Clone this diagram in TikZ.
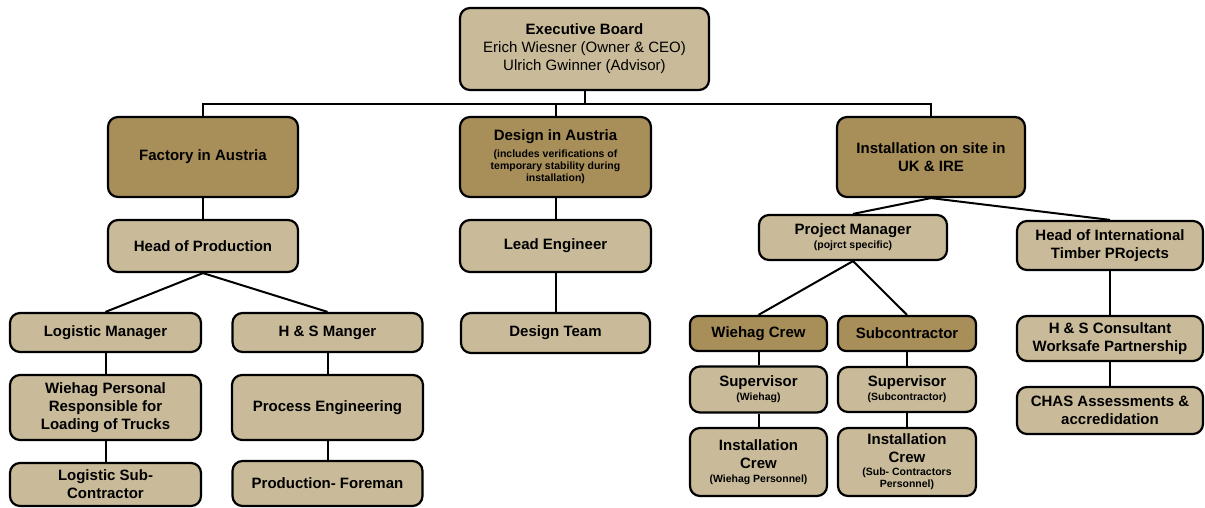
\documentclass[tikz,border=0pt]{standalone}
\usepackage{fontspec}
\setmainfont{Liberation Sans}
\usepackage{xcolor}
\usepackage{tikz}
\usetikzlibrary{positioning,calc}

\definecolor{lighttan}{HTML}{C9BB99}
\definecolor{darktan}{HTML}{A88F59}
\newcommand{\smalltxt}{\fontsize{10.5}{12}\selectfont}

\begin{document}
\begin{tikzpicture}[x=1pt,y=-1pt,
  every node/.style={font=\fontsize{15}{18}\selectfont\bfseries, align=center, inner sep=0pt},
  box/.style={draw, line width=2.2pt, rounded corners=10pt, fill=lighttan},
  darkbox/.style={box, fill=darktan},
  link/.style={line width=2pt}]
  \useasboundingbox (0,0) rectangle (1205,508);

% connectors first, boxes on top
\coordinate (bus) at (584.5,104);
\coordinate (execbot) at (584.5,90);
\draw[link] (execbot) -- (bus);
\draw[link] (203,117) |- (bus) -| (931,117);
\draw[link] (555.5,117) -- (555.5,104);

\node (exec) at (584.5,49) [box, minimum width=249pt, minimum height=82pt] {Executive Board\\\mdseries Erich Wiesner (Owner \& CEO)\\\mdseries Ulrich Gwinner (Advisor)};

% top level
\node (factory) at (203,157) [darkbox, minimum width=190pt, minimum height=80pt] {Factory in Austria};
\node (design) at (555.5,157) [darkbox, minimum width=191pt, minimum height=80pt] {Design in Austria\\[-1pt]\smalltxt (includes verifications of\\[-6pt]\smalltxt temporary stability during\\[-6pt]\smalltxt installation)};
\node (install) at (931,157) [darkbox, minimum width=188pt, minimum height=80pt] {Installation on site in\\UK \& IRE};

% factory branch
\node (prod) at (203,246) [box, minimum width=190pt, minimum height=52pt] {Head of Production};
\node (logman) at (105.5,332.5) [box, minimum width=191pt, minimum height=39pt] {Logistic Manager};
\node (hsman) at (327.5,332.5) [box, minimum width=190pt, minimum height=39pt] {H \& S Manger};
\node (loading) at (105.5,407.5) [box, minimum width=191pt, minimum height=65pt] {Wiehag Personal\\Responsible for\\Loading of Trucks};
\node (process) at (327.5,407.5) [box, minimum width=191pt, minimum height=65pt] {Process Engineering};
\node (logsub) at (105.5,484.5) [box, minimum width=191pt, minimum height=43pt] {Logistic Sub-\\Contractor};
\node (foreman) at (327.5,483.5) [box, minimum width=190pt, minimum height=45pt] {Production- Foreman};

% design branch
\node (lead) at (555.5,246) [box, minimum width=191pt, minimum height=52pt] {Lead Engineer};
\node (team) at (555.5,333) [box, minimum width=189pt, minimum height=40pt] {Design Team};

% installation branch
\node (pm) at (853,237.5) [box, minimum width=188pt, minimum height=45pt] {Project Manager\\[-4pt]\smalltxt (pojrct specific)};
\node (intl) at (1110,245.5) [box, minimum width=186pt, minimum height=49pt] {Head of International\\Timber PRojects};
\node (crew) at (758.5,333.5) [darkbox, rounded corners=8pt, minimum width=137pt, minimum height=35pt] {Wiehag Crew};
\node (sub) at (907,333.5) [darkbox, rounded corners=8pt, minimum width=138pt, minimum height=35pt] {Subcontractor};
\node (supw) at (758.5,389.5) [box, minimum width=137pt, minimum height=46pt] {Supervisor\\[-4pt]\smalltxt (Wiehag)};
\node (sups) at (907,389.5) [box, minimum width=138pt, minimum height=45pt] {Supervisor\\[-4pt]\smalltxt (Subcontractor)};
\node (instw) at (758.5,462) [box, minimum width=137pt, minimum height=68pt] {Installation\\Crew\\[-4pt]\smalltxt (Wiehag Personnel)};
\node (insts) at (907,462) [box, minimum width=138pt, minimum height=68pt] {Installation\\Crew\\[-5pt]\smalltxt (Sub- Contractors\\[-6pt]\smalltxt Personnel)};
\node (hscons) at (1110,338.5) [box, minimum width=186pt, minimum height=45pt] {H \& S Consultant\\Worksafe Partnership};
\node (chas) at (1110,410.5) [box, minimum width=186pt, minimum height=47pt] {CHAS Assessments \&\\accredidation};

\draw[link] (factory) -- (prod);
\draw[link] (prod.south) -- (logman.north);
\draw[link] (prod.south) -- (hsman.north);
\draw[link] (logman) -- (loading);
\draw[link] (loading) -- (logsub);
\draw[link] (hsman) -- (process);
\draw[link] (process) -- (foreman);
\draw[link] (design) -- (lead);
\draw[link] (lead) -- (team);
\draw[link] (install.south) -- (pm.north);
\draw[link] (install.south) -- (intl.north);
\draw[link] (pm.south) -- (crew.north);
\draw[link] (pm.south) -- (sub.north);
\draw[link] (crew) -- (supw);
\draw[link] (supw) -- (instw);
\draw[link] (sub) -- (sups);
\draw[link] (sups) -- (insts);
\draw[link] (intl) -- (hscons);
\draw[link] (hscons) -- (chas);
\end{tikzpicture}
\end{document}
